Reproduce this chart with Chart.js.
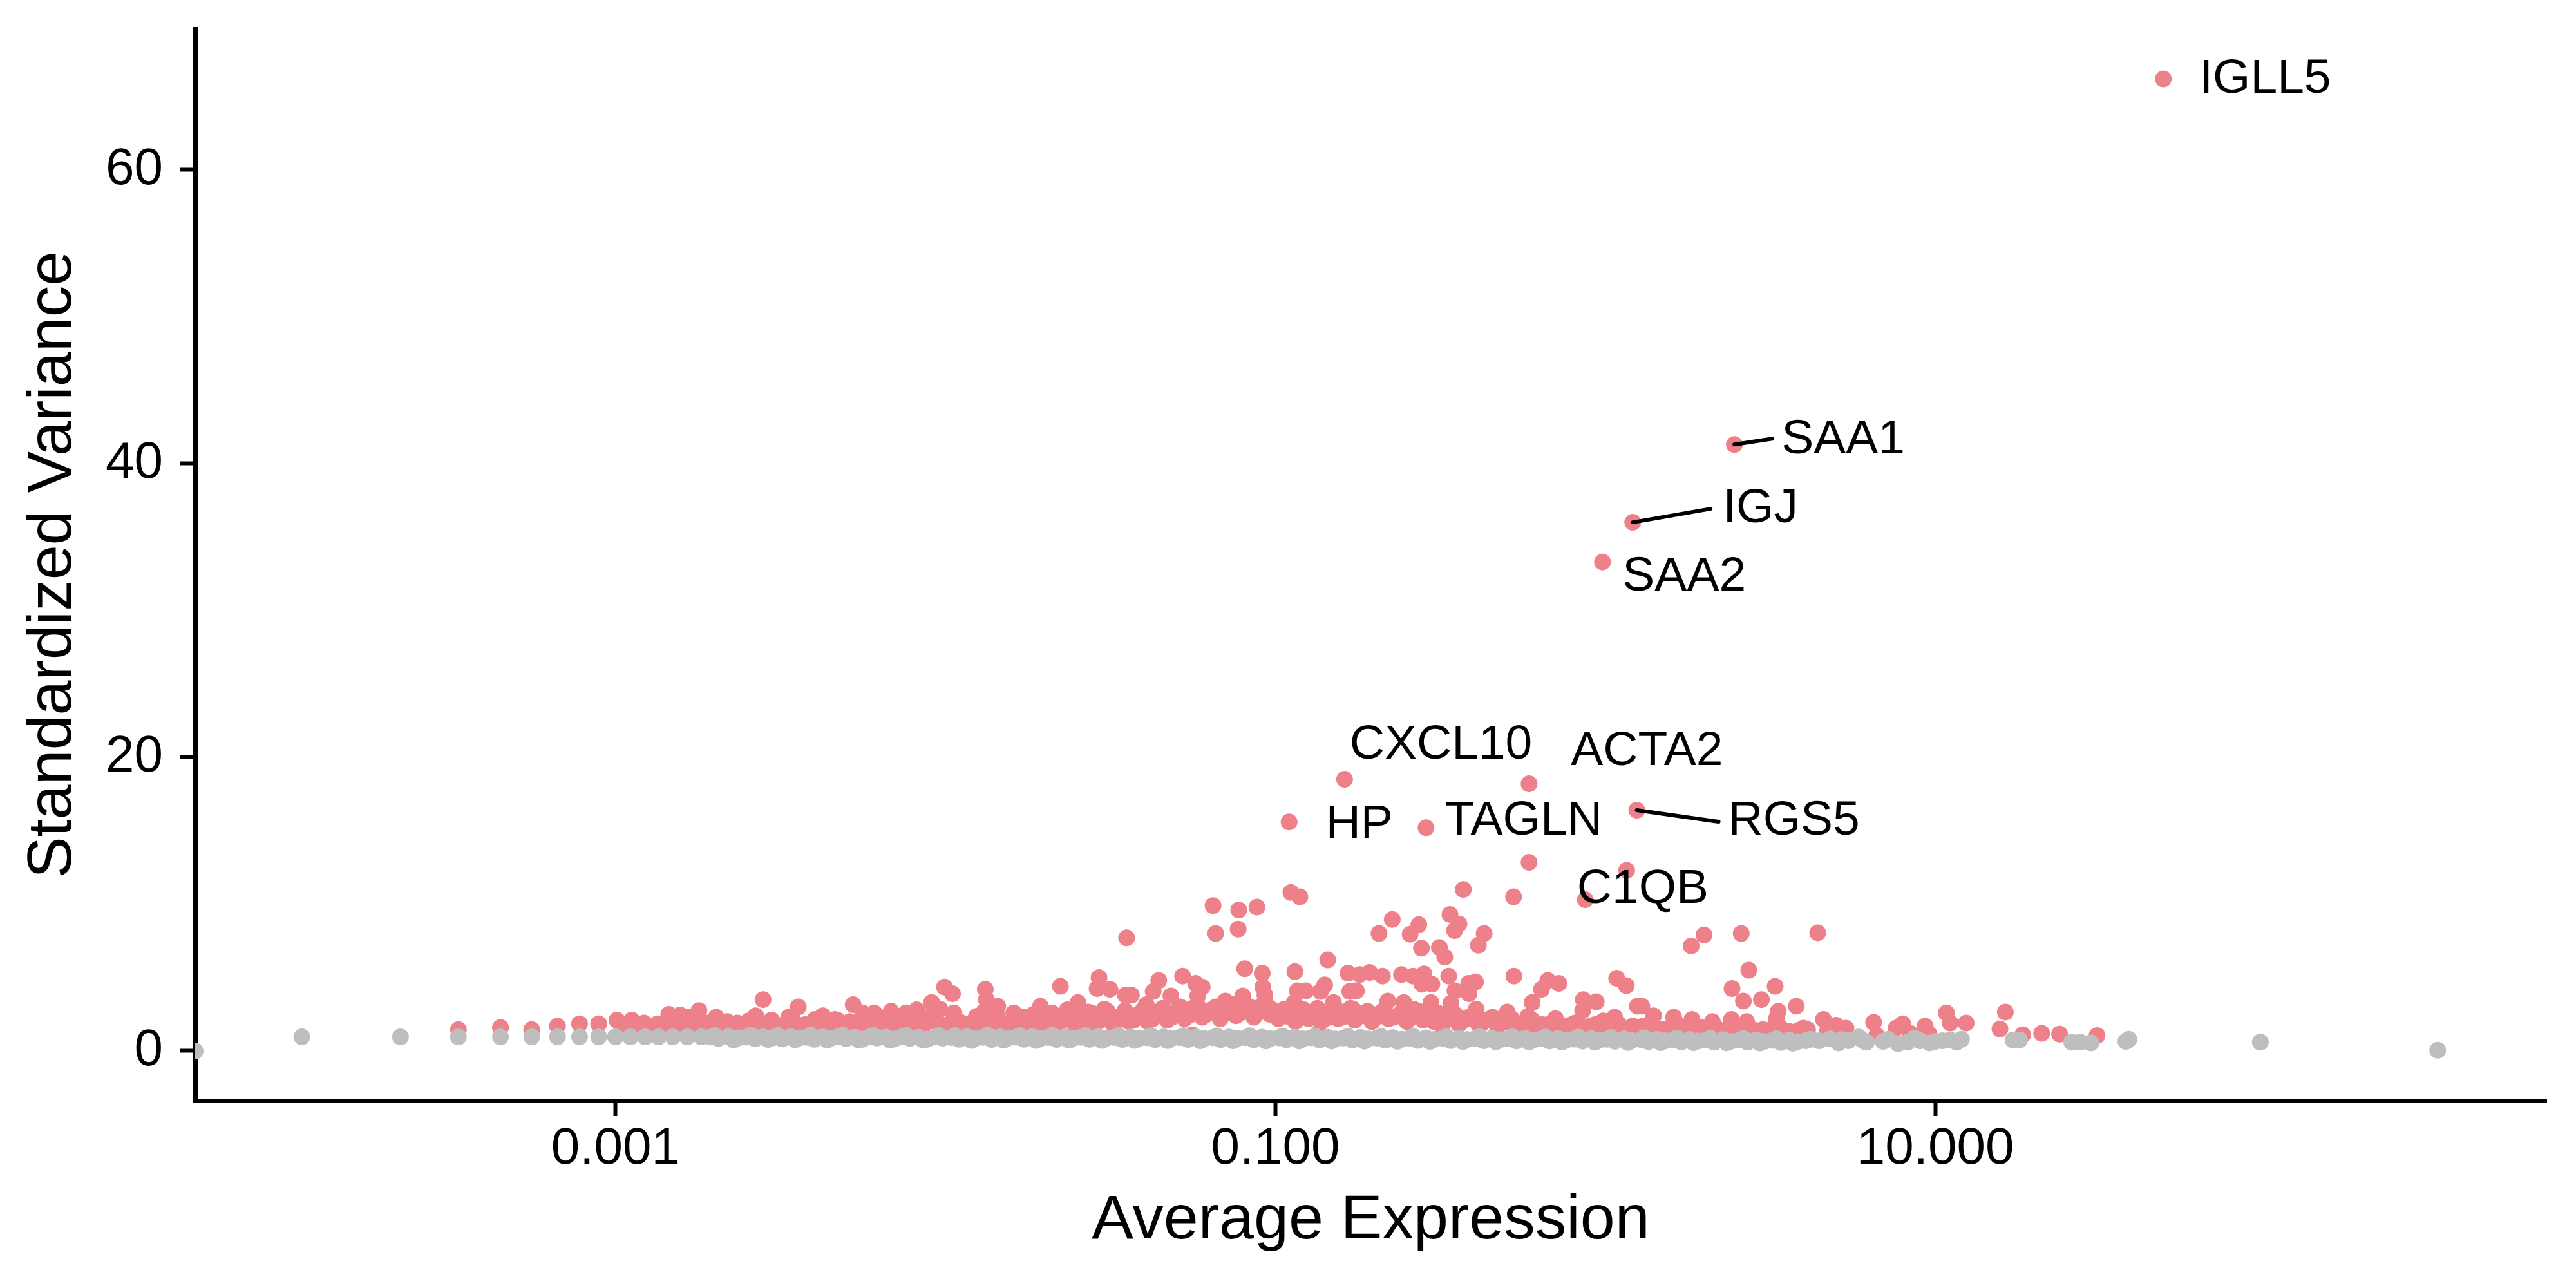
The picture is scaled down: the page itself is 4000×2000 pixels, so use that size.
<!DOCTYPE html>
<html>
<head>
<meta charset="utf-8">
<script src="https://cdn.jsdelivr.net/npm/chart.js@4.4.0/dist/chart.umd.min.js"></script>
<style>
  html, body { margin: 0; padding: 0; background: #fff; }
</style>
</head>
<body>
<canvas id="chart" width="4000" height="2000"></canvas>
<script>
// axis limits and ticks
const X_MIN = 5.32e-5, X_MAX = 711;
const Y_MIN = -3.38, Y_MAX = 69.6;
const xTicks = [0.001, 0.1, 10];
const xTickLabels = ['0.001', '0.100', '10.000'];
const yTicks = [0, 20, 40, 60];

// labelled variable genes
const highlightGenes = ['IGLL5', 'SAA1', 'IGJ', 'SAA2', 'CXCL10', 'ACTA2', 'HP', 'TAGLN', 'RGS5', 'C1QB'];
const highlightExpr = [49.1, 2.46, 1.21, 0.98, 0.162, 0.587, 0.110, 0.286, 1.245, 1.16];
const highlightVar = [66.2, 41.3, 36.0, 33.3, 18.5, 18.2, 15.6, 15.2, 16.4, 12.3];

// other variable genes [avg expression, standardized variance]
const variableScatter = [
  [3.34e-4,1.45],[4.48e-4,1.6],[5.57e-4,1.45],[6.67e-4,1.7],[7.78e-4,1.85],[8.89e-4,1.85],
  [1.01e-3,2.1],[1.12e-3,2.1],[1.22e-3,1.9],[1.34e-3,1.7],[1.45e-3,2.5],[1.57e-3,2.45],[1.67e-3,2.3],[1.79e-3,2.75],
  [2.02e-3,2.3],[2.15e-3,1.7],[2.34e-3,1.9],[2.55e-3,2.0],[2.66e-3,2.4],[2.80e-3,3.5],[2.99e-3,1.75],[3.35e-3,2.3],
  [3.58e-3,3.0],[3.85e-3,1.75],[4.25e-3,2.4],[4.62e-3,2.15],[5.13e-3,2.0],[5.25e-3,3.15],[5.61e-3,2.6],[6.08e-3,2.6],
  [6.84e-3,2.7],[7.59e-3,2.6],[8.18e-3,2.8],[9.08e-3,3.3],[9.62e-3,2.85],[9.93e-3,4.35],
  [0.0105,3.9],[0.0106,2.6],[0.0116,1.85],[0.0131,2.7],[0.0132,4.2],[0.0133,3.5],[0.0144,3.05],[0.0161,2.6],[0.0173,2.3],
  [0.0194,3.05],[0.0210,2.6],[0.0223,4.4],[0.0234,2.8],[0.0252,3.3],[0.0277,2.6],[0.0288,4.25],[0.0292,5.0],[0.0303,2.85],
  [0.0315,4.2],[0.0351,3.8],[0.0354,7.7],[0.0366,3.8],[0.0370,2.15],[0.0406,3.15],[0.0426,4.05],[0.0443,4.8],[0.0482,3.75],
  [0.0523,5.1],[0.0573,4.6],[0.0581,3.75],[0.0580,2.85],[0.0600,4.35],[0.0647,9.9],[0.0659,8.0],[0.0660,2.85],[0.0705,3.4],
  [0.0771,8.3],[0.0774,9.6],[0.0796,3.75],[0.0807,5.6],[0.0879,9.8],[0.0912,5.3],[0.0916,4.35],[0.0929,3.8],[0.0971,2.85],
  [0.1065,2.85],[0.1114,10.8],[0.114,3.3],[0.1145,5.4],[0.1165,4.1],[0.1186,10.5],[0.1236,4.1],[0.129,2.3],[0.137,4.05],
  [0.141,4.5],[0.144,6.2],[0.1465,2.3],[0.150,3.3],[0.152,2.85],[0.166,5.3],[0.168,4.05],[0.172,2.85],[0.176,4.1],[0.180,5.2],
  [0.184,2.4],[0.193,5.35],[0.206,8.0],[0.211,5.1],[0.214,2.8],[0.219,3.4],[0.226,8.95],[0.241,5.2],[0.245,3.3],[0.256,7.95],
  [0.261,5.1],[0.262,2.85],[0.272,8.6],[0.277,7.0],[0.278,4.55],[0.279,2.3],[0.282,5.25],[0.296,3.3],[0.298,4.55],[0.302,2.0],
  [0.314,7.05],[0.320,1.7],[0.326,6.4],[0.335,5.1],[0.336,2.5],[0.338,9.3],[0.340,3.25],[0.349,8.2],[0.350,4.1],[0.360,8.65],
  [0.371,11.0],[0.385,4.6],[0.386,3.9],[0.404,4.7],[0.406,2.85],[0.412,7.2],[0.421,1.85],[0.429,8.0],[0.461,2.0],[0.504,2.65],
  [0.527,10.5],[0.528,5.1],[0.553,1.85],[0.582,2.35],[0.587,12.85],[0.600,3.3],[0.640,4.2],[0.669,4.8],[0.706,2.2],[0.722,4.6],
  [0.800,1.85],[0.853,2.75],[0.857,3.5],[0.869,10.3],[0.938,3.35],[0.985,2.05],
  [1.067,2.3],[1.082,4.95],[1.157,4.45],[1.21,1.7],[1.25,3.05],[1.29,3.05],[1.40,2.4],[1.61,2.3],[1.82,7.15],[1.83,2.15],
  [1.99,7.9],[2.11,2.0],[2.41,2.15],[2.42,4.25],[2.58,8.0],[2.62,3.4],[2.68,2.0],[2.72,5.5],[2.97,3.5],[3.27,4.4],[3.30,2.2],
  [3.34,2.7],[3.79,3.05],[3.98,1.55],[4.40,8.05],[4.58,2.15],[5.01,1.75],[5.36,1.55],[6.50,1.95],[7.60,1.55],[7.96,1.85],
  [9.31,1.7],[10.8,2.6],[11.1,1.9],[12.4,1.9],[15.7,1.5],[16.3,2.65],[18.4,1.1],[21.0,1.2],[23.8,1.15],[30.9,1.05]
];

// variable genes packed in the low band
const variableBand = [
  [1.05e-3,1.5],[1.15e-3,1.6],[1.28e-3,1.45],[1.4e-3,1.7],[1.52e-3,1.55],[1.66e-3,1.8],[1.8e-3,1.5],[1.95e-3,1.65],
  [2.1e-3,1.9],[2.25e-3,1.5],[2.45e-3,1.75],[2.6e-3,1.55],[2.85e-3,1.8],[3.1e-3,1.6],[3.3e-3,1.95],[3.6e-3,1.5],
  [3.9e-3,1.7],[4.15e-3,1.9],[4.5e-3,1.55],[4.9e-3,1.8],[5.4e-3,1.6],[5.8e-3,1.9],[6.3e-3,1.55],[6.7e-3,2.0],
  [7.2e-3,1.7],[7.8e-3,1.9],[8.5e-3,1.6],[9.3e-3,2.0],
  [0.0102,1.7],[0.011,2.0],[0.012,1.6],[0.0128,1.9],[0.0138,2.1],[0.0148,1.7],[0.0158,2.0],[0.0168,1.6],[0.018,2.2],
  [0.019,1.8],[0.0202,2.1],[0.0215,1.7],[0.023,2.2],[0.0245,1.9],[0.0262,2.3],[0.028,1.8],[0.030,2.2],[0.032,1.9],
  [0.034,2.4],[0.036,2.0],[0.0385,2.5],[0.041,2.0],[0.044,2.6],[0.047,2.1],[0.050,2.7],[0.053,2.2],[0.056,2.9],
  [0.060,2.3],[0.064,2.8],[0.068,2.2],[0.072,3.0],[0.076,2.4],[0.081,2.9],[0.086,2.3],[0.091,3.1],[0.096,2.5],
  [0.102,2.2],[0.108,2.6],[0.115,2.0],[0.122,2.8],[0.130,2.3],[0.138,2.0],[0.146,2.6],[0.155,2.2],[0.164,2.7],
  [0.174,2.1],[0.185,2.5],[0.196,2.0],[0.208,2.6],[0.220,2.2],[0.235,2.4],[0.250,2.0],[0.265,2.5],[0.280,2.1],
  [0.300,2.4],[0.320,1.9],[0.340,2.2],[0.360,1.8],[0.385,2.3],[0.410,1.9],[0.440,2.1],[0.470,1.7],[0.500,2.0],
  [0.540,1.7],[0.580,1.9],[0.620,1.6],[0.670,1.8],[0.720,1.6],[0.780,1.75],[0.840,1.5],[0.900,1.7],[0.960,1.5],
  [1.05,1.6],[1.15,1.45],[1.30,1.7],[1.45,1.5],[1.60,1.65],[1.75,1.4],[1.95,1.6],[2.20,1.45],[2.50,1.55],
  [2.85,1.4],[3.20,1.5],[3.60,1.35],[4.10,1.45],[4.70,1.3],
  [2.02e-3,0.95],[8.45e-3,0.95],[0.0191,0.95],[0.056,1.1],[0.135,1.2],[0.748,1.05],[0.857,1.0],[0.896,1.2],
  [1.24,1.05],[1.32,1.05],[2.68,1.4],[3.30,1.5],[6.64,1.05],[8.39,1.2],[9.57,1.15]
];

// more variable genes in the band, upper layer
const variableBandUpper = [
  [1.1e-3,1.75],[1.22e-3,1.55],[1.34e-3,1.85],[1.46e-3,1.6],[1.6e-3,1.95],[1.73e-3,1.7],[1.88e-3,1.9],[2.02e-3,1.6],
  [2.18e-3,2.0],[2.35e-3,1.7],[2.53e-3,2.05],[2.73e-3,1.65],[2.97e-3,2.1],[3.2e-3,1.75],[3.45e-3,2.1],[3.75e-3,1.8],
  [4.02e-3,2.15],[4.3e-3,1.7],[4.7e-3,2.1],[5.1e-3,1.75],[5.6e-3,2.2],[6.05e-3,1.7],[6.5e-3,2.25],[6.95e-3,1.8],
  [7.5e-3,2.2],[8.1e-3,1.8],[8.9e-3,2.3],[9.7e-3,1.8],
  [0.0106,2.3],[0.0115,1.75],[0.0124,2.35],[0.0133,1.8],[0.0143,2.4],[0.0153,1.85],[0.0163,2.45],[0.0174,1.9],
  [0.0185,2.5],[0.0196,1.9],[0.0208,2.55],[0.0222,1.95],[0.0237,2.6],[0.0253,2.0],[0.0271,2.65],[0.029,2.0],
  [0.031,2.7],[0.033,2.05],[0.035,2.75],[0.0372,2.1],[0.0397,2.8],[0.0425,2.2],[0.0455,2.9],[0.0485,2.3],
  [0.0515,3.0],[0.0545,2.4],[0.058,3.1],[0.062,2.5],[0.066,3.0],[0.070,2.5],[0.074,3.2],[0.0785,2.6],
  [0.0835,3.0],[0.0885,2.6],[0.0935,3.2],[0.0985,2.6],
  [0.105,2.7],[0.111,2.3],[0.118,2.9],[0.126,2.2],[0.134,2.9],[0.142,2.4],[0.150,2.8],[0.159,2.3],[0.169,2.9],
  [0.179,2.4],[0.190,2.7],[0.202,2.3],[0.214,2.8],[0.228,2.3],[0.242,2.7],[0.258,2.3],[0.272,2.7],[0.29,2.2],
  [0.31,2.6],[0.33,2.2],[0.35,2.5],[0.372,2.1],[0.397,2.4],[0.425,2.0],[0.455,2.3],[0.485,1.9],[0.52,2.2],
  [0.56,1.8],[0.60,2.1],[0.645,1.8],[0.695,2.0],[0.75,1.7],[0.81,1.9],[0.87,1.6],[0.93,1.8],[0.99,1.6],
  [1.1,1.8],[1.22,1.55],[1.37,1.75],[1.52,1.5],[1.68,1.7],[1.85,1.5],[2.07,1.65],[2.35,1.5],[2.65,1.6],
  [3.0,1.45],[3.4,1.55],[3.85,1.4]
];

// non-variable genes
const otherGenes = [
  [5.32e-5,0],[1.12e-4,0.96],[2.23e-4,0.96],[3.34e-4,0.96],[4.48e-4,0.96],[5.57e-4,0.96],[6.67e-4,0.96],
  [7.78e-4,0.96],[8.89e-4,0.96],[1.0e-3,0.96],[1.11e-3,0.96],[1.23e-3,0.96],[1.35e-3,0.96],[1.49e-3,0.96],
  [1.65e-3,0.96],[1.82e-3,0.96],
  [1.95e-3,0.95],[2.05e-3,0.85],[2.2e-3,0.97],[2.35e-3,0.88],[2.5e-3,0.95],[2.65e-3,0.83],[2.8e-3,0.96],[3.0e-3,0.9],
  [3.2e-3,0.82],[3.4e-3,0.97],[3.6e-3,0.88],[3.8e-3,0.93],[4.0e-3,0.8],[4.25e-3,0.95],[4.5e-3,0.87],[4.75e-3,0.98],
  [5.0e-3,0.84],[5.3e-3,0.93],[5.6e-3,0.8],[5.9e-3,0.96],[6.2e-3,0.88],[6.6e-3,0.94],[7.0e-3,0.82],[7.4e-3,0.97],
  [7.8e-3,0.86],[8.3e-3,0.93],[8.8e-3,0.8],[9.3e-3,0.95],[9.8e-3,0.87],
  [0.0104,0.92],[0.011,0.8],[0.0116,0.97],[0.0123,0.86],[0.013,0.93],[0.0138,0.78],[0.0146,0.96],[0.0155,0.88],
  [0.0164,0.94],[0.0173,0.8],[0.0183,0.97],[0.0194,0.85],[0.0205,0.92],[0.0217,0.78],[0.023,0.96],[0.0244,0.87],
  [0.0258,0.93],[0.0273,0.79],[0.029,0.97],[0.0307,0.86],[0.0325,0.92],[0.0344,0.78],[0.0364,0.95],[0.0386,0.85],
  [0.0408,0.91],[0.0432,0.77],[0.0458,0.96],[0.0485,0.86],[0.0513,0.92],[0.0543,0.78],[0.0575,0.95],[0.0609,0.84],
  [0.0645,0.9],[0.0683,0.77],[0.0723,0.95],[0.0766,0.85],[0.0811,0.91],[0.0859,0.76],[0.091,0.94],[0.0963,0.84],
  [0.102,0.9],[0.108,0.76],[0.114,0.94],[0.121,0.83],[0.128,0.9],[0.136,0.75],[0.144,0.93],[0.152,0.82],
  [0.161,0.89],[0.171,0.74],[0.181,0.92],[0.191,0.82],[0.203,0.88],[0.215,0.73],[0.227,0.91],[0.241,0.8],
  [0.255,0.87],[0.27,0.72],[0.286,0.9],[0.303,0.79],[0.321,0.86],[0.34,0.71],[0.36,0.89],[0.381,0.78],
  [0.404,0.85],[0.428,0.7],[0.453,0.87],[0.48,0.77],[0.508,0.84],[0.538,0.69],[0.57,0.86],[0.604,0.75],
  [0.64,0.83],[0.677,0.68],[0.717,0.85],[0.76,0.74],[0.805,0.81],[0.852,0.67],[0.903,0.84],[0.956,0.73],
  [1.01,0.8],[1.07,0.66],[1.14,0.82],[1.2,0.71],[1.28,0.78],[1.35,0.64],[1.43,0.8],[1.52,0.7],[1.61,0.77],
  [1.7,0.62],[1.8,0.79],[1.91,0.68],[2.02,0.75],[2.14,0.6],[2.27,0.78],[2.4,0.66],[2.55,0.74],[2.7,0.6],
  [2.86,0.76],[3.03,0.65],[3.21,0.72],[3.4,0.58],[3.6,0.74],[3.82,0.63],[4.05,0.7],
  [4.44,0.7],[5.09,0.55],[5.45,0.7],[5.86,0.95],[6.0,0.75],[6.18,0.6],[6.95,0.65],[7.2,0.8],[7.71,0.5],
  [8.24,0.6],[8.63,0.85],[9.0,0.7],[9.6,0.55],[10.0,0.65],[10.5,0.7],[11.1,0.75],[11.6,0.6],[12.0,0.8],
  [17.2,0.75],[18.0,0.75],[25.9,0.6],[27.5,0.6],[29.6,0.55],[37.8,0.65],[38.6,0.8],[96.6,0.6],[333,0.05]
];

// non-variable genes, second layer of the band
const otherGenesBand = [
  [2.0e-3,1.05],[2.28e-3,0.75],[2.57e-3,1.08],[2.9e-3,0.78],[3.1e-3,1.05],[3.5e-3,0.76],[3.9e-3,1.07],[4.38e-3,0.74],
  [4.88e-3,1.06],[5.45e-3,0.75],[6.05e-3,1.05],[6.8e-3,0.74],[7.6e-3,1.06],[8.55e-3,0.75],[9.55e-3,1.05],
  [0.0107,1.05],[0.012,0.72],[0.0134,1.06],[0.015,0.74],[0.0168,1.05],[0.0188,0.72],[0.0211,1.06],[0.0237,0.73],
  [0.0265,1.05],[0.0298,0.72],[0.0334,1.05],[0.0375,0.72],[0.042,1.04],[0.0471,0.71],[0.0528,1.05],[0.0592,0.7],
  [0.0664,1.03],[0.0744,0.7],[0.0835,1.04],[0.0936,0.69],
  [0.105,1.02],[0.118,0.68],[0.132,1.02],[0.148,0.68],[0.166,1.0],[0.186,0.67],[0.209,1.0],[0.234,0.66],
  [0.262,0.99],[0.294,0.65],[0.33,0.98],[0.37,0.64],[0.415,0.97],[0.466,0.63],[0.523,0.96],[0.587,0.62],
  [0.658,0.95],[0.738,0.61],[0.828,0.94],[0.929,0.6],
  [1.04,0.92],[1.17,0.58],[1.31,0.9],[1.47,0.57],[1.65,0.88],[1.85,0.56],[2.08,0.86],[2.33,0.55],[2.62,0.85],
  [2.94,0.54],[3.3,0.83],[3.7,0.53],[4.2,0.8],[4.8,0.82],[5.2,0.78]
];

// label placement (pixel offsets from the point) and leader lines
const labelOffsets = [[56,1],[73,-7],[140,-21],[31,24],[8,-53],[65,-50],[57,5],[29,-10],[142,17],[-77,30]];
const labelLines = [null,[59,-9],[121,-21],null,null,null,null,null,[127,18],null];

const FONT = "'Liberation Sans', Arial, Helvetica, sans-serif";
const RED = 'rgb(238,128,138)';
const GREY = 'rgb(190,190,190)';

const toPoints = arr => arr.map(p => ({x: p[0], y: p[1]}));

const geneLabels = {
  id: 'geneLabels',
  afterDatasetsDraw(chart) {
    const {ctx} = chart;
    const xs = chart.scales.x, ys = chart.scales.y;
    ctx.save();
    ctx.font = '75px ' + FONT;
    ctx.fillStyle = '#000';
    ctx.strokeStyle = '#000';
    ctx.lineWidth = 6;
    ctx.lineCap = 'round';
    ctx.textAlign = 'left';
    ctx.textBaseline = 'middle';
    highlightGenes.forEach((name, i) => {
      const px = xs.getPixelForValue(highlightExpr[i]);
      const py = ys.getPixelForValue(highlightVar[i]);
      const seg = labelLines[i];
      if (seg) {
        ctx.beginPath();
        ctx.moveTo(px, py);
        ctx.lineTo(px + seg[0], py + seg[1]);
        ctx.stroke();
      }
      ctx.fillText(name, px + labelOffsets[i][0], py + labelOffsets[i][1]);
    });
    ctx.restore();
  }
};

const ctx = document.getElementById('chart').getContext('2d');
new Chart(ctx, {
  type: 'scatter',
  data: {
    datasets: [
      {
        label: 'highlight',
        data: highlightGenes.map((g, i) => ({x: highlightExpr[i], y: highlightVar[i]})),
        backgroundColor: RED, pointRadius: 13, borderWidth: 0, order: 0, clip: 0
      },
      {
        label: 'non-variable',
        data: toPoints(otherGenes).concat(toPoints(otherGenesBand)),
        backgroundColor: GREY, pointRadius: 13, borderWidth: 0, order: 1, clip: 0
      },
      {
        label: 'variable',
        data: toPoints(variableBand).concat(toPoints(variableBandUpper), toPoints(variableScatter)),
        backgroundColor: RED, pointRadius: 13, borderWidth: 0, order: 2, clip: 0
      }
    ]
  },
  options: {
    responsive: false,
    animation: false,
    devicePixelRatio: 1,
    events: [],
    layout: {padding: {top: 45, right: 46, left: 0, bottom: 0}},
    plugins: {legend: {display: false}, tooltip: {enabled: false}},
    scales: {
      x: {
        type: 'logarithmic',
        min: X_MIN,
        max: X_MAX,
        border: {display: true, color: '#000', width: 7},
        grid: {display: true, drawOnChartArea: false, drawTicks: true, tickLength: 24, tickWidth: 6, tickColor: '#000'},
        ticks: {
          font: {family: FONT, size: 80, lineHeight: 1},
          color: '#000',
          padding: 12,
          autoSkip: false,
          maxRotation: 0,
          minRotation: 0,
          callback: (v, i) => xTickLabels[i]
        },
        afterBuildTicks: s => { s.ticks = xTicks.map(v => ({value: v})); },
        afterFit: s => { s.height = 291; s.paddingLeft = 0; s.paddingRight = 0; },
        title: {
          display: true,
          text: 'Average Expression',
          color: '#000',
          font: {family: FONT, size: 97, lineHeight: 1},
          padding: {top: 0, bottom: 55}
        }
      },
      y: {
        type: 'linear',
        min: Y_MIN,
        max: Y_MAX,
        border: {display: true, color: '#000', width: 7},
        grid: {display: true, drawOnChartArea: false, drawTicks: true, tickLength: 24, tickWidth: 6, tickColor: '#000'},
        ticks: {
          font: {family: FONT, size: 80, lineHeight: 1},
          color: '#000',
          padding: 26,
          callback: v => String(v)
        },
        afterBuildTicks: s => { s.ticks = yTicks.map(v => ({value: v})); },
        afterFit: s => { s.width = 303; s.paddingTop = 0; s.paddingBottom = 0; },
        title: {
          display: true,
          text: 'Standardized Variance',
          color: '#000',
          font: {family: FONT, size: 97, lineHeight: 1},
          padding: {top: 35, bottom: 0}
        }
      }
    }
  },
  plugins: [geneLabels]
});
</script>
</body>
</html>
